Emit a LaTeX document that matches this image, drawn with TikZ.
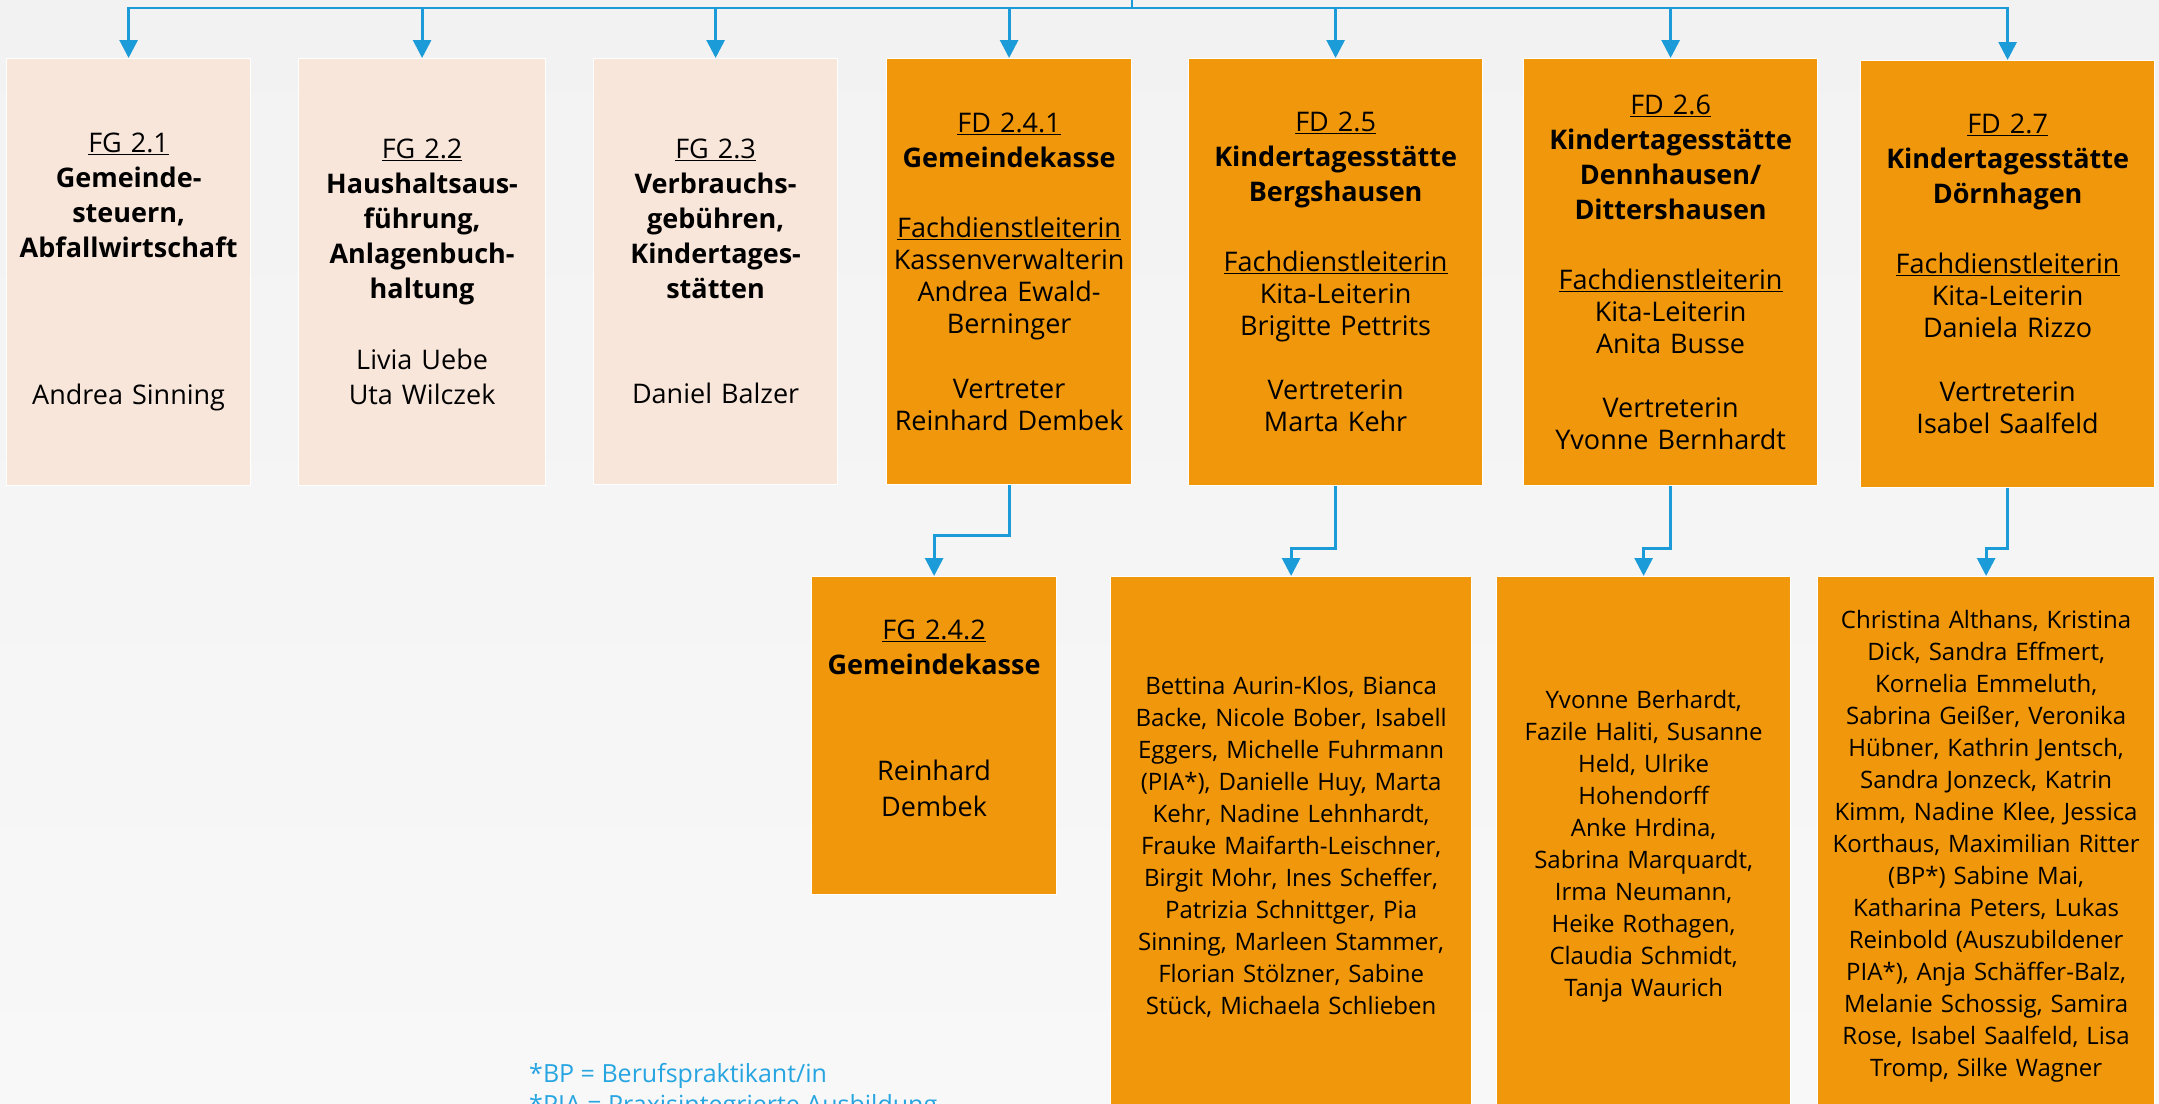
\documentclass[tikz,border=0pt]{standalone}
\usepackage{fontspec}
\setmainfont{Open Sans}
\usepackage{tikz}
\usetikzlibrary{calc}
\usetikzlibrary{arrows.meta}
\definecolor{bgtop}{HTML}{F2F2F2}
\definecolor{bgbottom}{HTML}{F8F8F8}
\definecolor{palefill}{HTML}{F9E6DA}
\definecolor{kitafill}{HTML}{F0970C}
\definecolor{linkblue}{HTML}{1B9BD7}
\definecolor{noteblue}{HTML}{27A5E1}
\newcommand{\bodysize}{\fontsize{24}{32}\selectfont}
\newcommand{\unitsize}{\fontsize{27}{32}\selectfont}
\newcommand{\headsize}{\fontsize{27}{35}\selectfont\bfseries}
\tikzstyle{orgbox} = [draw=white, line width=1.2pt, anchor=north west, inner sep=0pt, align=center, font=\bodysize]
\tikzstyle{palebox} = [orgbox, fill=palefill, font=\unitsize]
\tikzstyle{kitabox} = [orgbox, fill=kitafill, font=\unitsize]
\tikzstyle{staffbox} = [orgbox, fill=kitafill]
\tikzstyle{link} = [draw=linkblue, line width=2.8pt, -{Triangle[width=18pt,length=18pt]}]
\tikzstyle{notetext} = [anchor=base west, inner sep=0pt, text=noteblue, font=\fontsize{25}{31}\selectfont]

\begin{document}
\begin{tikzpicture}[x=1pt, y=-1pt]
\useasboundingbox (0,0) rectangle (2159,1103);
\clip (0,0) rectangle (2159,1103);
\shade[top color=bgtop, bottom color=bgbottom] (0,0) rectangle (2159,1103);

\node[palebox, text width=244pt, minimum height=427pt] (fg21) at (6,58) {{\underline{FG 2.1}\par}{\headsize Gemeinde-\\steuern,\\Abfallwirtschaft\par}\vspace{115pt}Andrea Sinning};
\node[palebox, text width=247pt, minimum height=427pt] (fg22) at (298,58) {{\underline{FG 2.2}\par}{\headsize Haushaltsaus-\\führung,\\Anlagenbuch-\\haltung\par}\vspace{39pt}Livia Uebe\\[3pt]Uta Wilczek};
\node[palebox, text width=244pt, minimum height=426pt] (fg23) at (593,58) {{\underline{FG 2.3}\par}{\headsize Verbrauchs-\\gebühren,\\Kindertages-\\stätten\par}\vspace{73pt}Daniel Balzer};
\node[kitabox, text width=245pt, minimum height=426pt] (fd241) at (886,58) {{\underline{FD 2.4.1}\par}{\headsize Gemeindekasse\par}\vspace{38pt}\underline{Fachdienstleiterin}\\Kassenverwalterin\\Andrea Ewald-\\Berninger\\[33pt]Vertreter\\Reinhard Dembek};
\node[kitabox, text width=294pt, minimum height=427pt] (fd25) at (1188,58) {{\underline{FD 2.5}\par}{\headsize Kindertagesstätte\\Bergshausen\par}\vspace{38pt}\underline{Fachdienstleiterin}\\Kita-Leiterin\\Brigitte Pettrits\\[32pt]Vertreterin\\Marta Kehr};
\node[kitabox, text width=294pt, minimum height=427pt] (fd26) at (1523,58) {{\underline{FD 2.6}\par}{\headsize Kindertagesstätte\\Dennhausen/\\Dittershausen\par}\vspace{38pt}\underline{Fachdienstleiterin}\\Kita-Leiterin\\Anita Busse\\[32pt]Vertreterin\\Yvonne Bernhardt};
\node[kitabox, text width=294pt, minimum height=427pt] (fd27) at (1860,60) {{\underline{FD 2.7}\par}{\headsize Kindertagesstätte\\Dörnhagen\par}\vspace{38pt}\underline{Fachdienstleiterin}\\Kita-Leiterin\\Daniela Rizzo\\[32pt]Vertreterin\\Isabel Saalfeld};

\node[kitabox, text width=245pt, minimum height=318pt] (fg242) at (811,576) {{\underline{FG 2.4.2}\par}{\headsize Gemeindekasse\par}\vspace{74pt}Reinhard\\[4pt]Dembek\par\vspace{2pt}\mbox{}};
\node[staffbox, text width=361pt, minimum height=540pt] (staff25) at (1110,576) {Bettina Aurin-Klos, Bianca\\Backe, Nicole Bober, Isabell\\Eggers, Michelle Fuhrmann\\(PIA*), Danielle Huy, Marta\\Kehr, Nadine Lehnhardt,\\Frauke Maifarth-Leischner,\\Birgit Mohr, Ines Scheffer,\\Patrizia Schnittger, Pia\\Sinning, Marleen Stammer,\\Florian Stölzner, Sabine\\Stück, Michaela Schlieben};
\node[staffbox, text width=294pt, minimum height=540pt] (staff26) at (1496,576) {Yvonne Berhardt,\\Fazile Haliti, Susanne\\Held, Ulrike\\Hohendorff\\Anke Hrdina,\\Sabrina Marquardt,\\Irma Neumann,\\Heike Rothagen,\\Claudia Schmidt,\\Tanja Waurich};
\node[staffbox, text width=337pt, minimum height=540pt] (staff27) at (1817,576) {Christina Althans, Kristina\\Dick, Sandra Effmert,\\Kornelia Emmeluth,\\Sabrina Geißer, Veronika\\Hübner, Kathrin Jentsch,\\Sandra Jonzeck, Katrin\\Kimm, Nadine Klee, Jessica\\Korthaus, Maximilian Ritter\\(BP*) Sabine Mai,\\Katharina Peters, Lukas\\Reinbold (Auszubildener\\PIA*), Anja Schäffer-Balz,\\Melanie Schossig, Samira\\Rose, Isabel Saalfeld, Lisa\\Tromp, Silke Wagner};

\node[notetext] (bpnote) at (529,1082) {*BP = Berufspraktikant/in};
\node[notetext] (pianote) at ($(bpnote.base west)+(0,31)$) {*PIA = Praxisintegrierte Ausbildung};

\coordinate (root) at (1132,0);
\coordinate (bus) at (1132,8);
\draw[linkblue, line width=2.8pt] (root) -- (bus);
\foreach \unit in {fg21,fg22,fg23,fd241,fd25,fd26,fd27}
  \draw[link] (bus) -| (\unit.north);
\draw[link] (fd241.south) -- ++(0,50) -| (fg242.north);
\draw[link] (fd25.south) -- ++(0,62) -| (staff25.north);
\draw[link] (fd26.south) -- ++(0,62) -| (staff26.north);
\draw[link] (fd27.south) -- ++(0,60) -| (staff27.north);
\end{tikzpicture}
\end{document}
